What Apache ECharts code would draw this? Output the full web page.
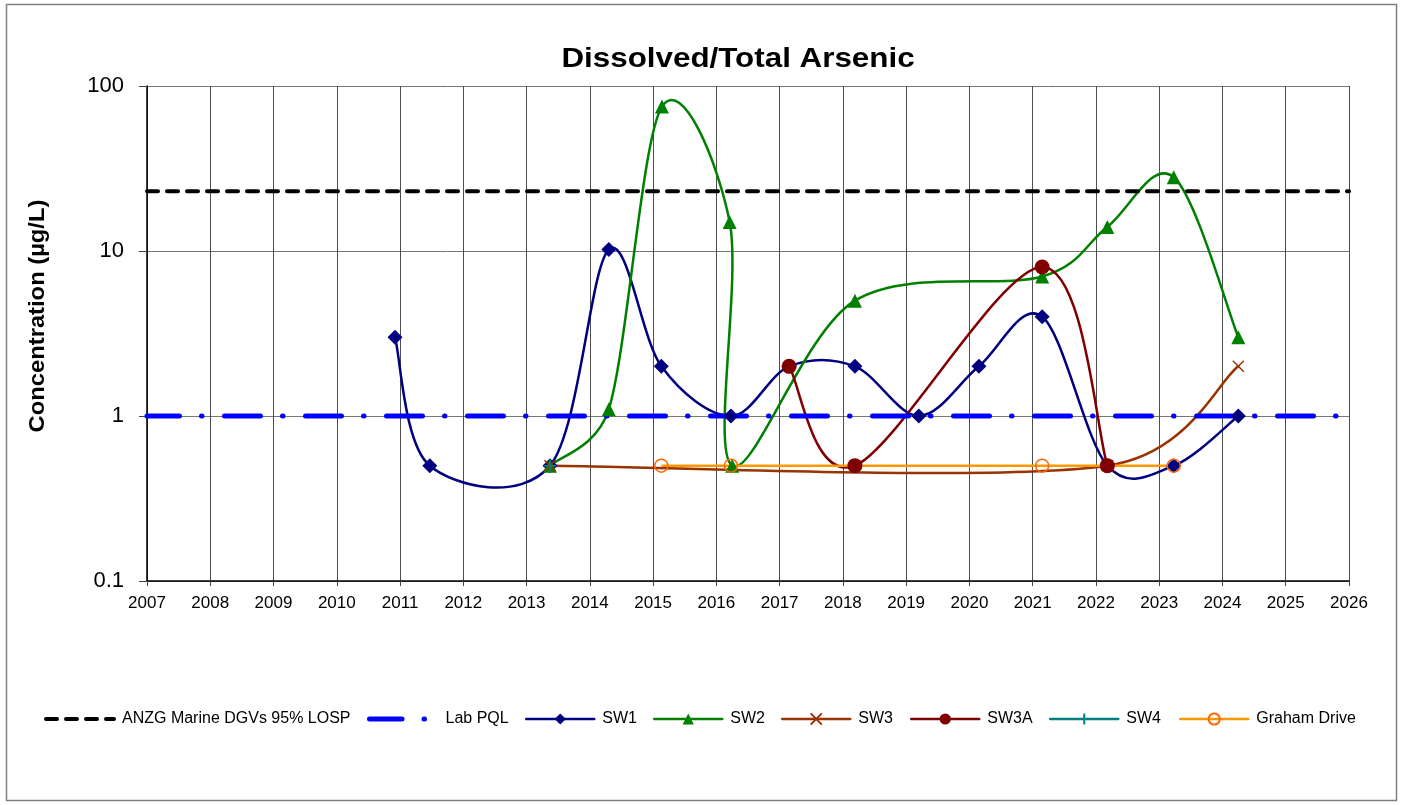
<!DOCTYPE html>
<html>
<head>
<meta charset="utf-8">
<title>Dissolved/Total Arsenic</title>
<script src="https://cdn.jsdelivr.net/npm/echarts@6/dist/echarts.min.js"></script>
<style>
  html, body { margin: 0; padding: 0; background: #fff; }
  #chart { width: 1401px; height: 805px; }
</style>
</head>
<body>
<div id="chart"></div>
<script>
// Sampling dates are decimal years; concentrations in µg/L.
const yearRange = [2007, 2026];

const anzgGuideline = [[2007, 23], [2026, 23]];
const labPql = [[2007, 1], [2026, 1]];

const sw1 = [
  [2010.92, 3], [2011.47, 0.5], [2013.37, 0.5], [2014.30, 10.2], [2015.13, 2],
  [2016.23, 1], [2017.15, 2], [2018.19, 2], [2019.20, 1], [2020.15, 2],
  [2021.15, 4], [2022.18, 0.5], [2023.23, 0.5], [2024.25, 1]
];
const sw2 = [
  [2013.37, 0.5], [2014.30, 1.1], [2015.14, 75], [2016.21, 15], [2016.25, 0.5],
  [2018.19, 5], [2021.15, 7], [2022.18, 14], [2023.23, 28], [2024.25, 3]
];
const sw3 = [[2013.37, 0.5], [2022.18, 0.5], [2024.25, 2]];
const sw3a = [[2017.15, 2], [2018.19, 0.5], [2021.15, 8], [2022.18, 0.5]];
const sw4 = [[2013.37, 0.5]];
const grahamDrive = [[2015.13, 0.5], [2016.23, 0.5], [2021.15, 0.5], [2023.23, 0.5]];

const FONT = '"Liberation Sans", Arial, sans-serif';
const CROSS = 'path://M0,0L10,10M0,10L10,0';
const PLUS = 'path://M5,0L5,10M0,5L10,5';

// Guide lines (no markers)
const guides = [
  { name: 'ANZG Marine DGVs 95% LOSP', data: anzgGuideline, color: '#000000', width: 4, dash: [11, 9], offset: 0 },
  { name: 'Lab PQL', data: labPql, color: '#0000ff', width: 5, dash: [36, 22, 0.5, 22.5], offset: 3.5 }
];

// Monitoring sites: smoothed line plus markers
const sites = [
  { name: 'SW1', data: sw1, color: '#000080', symbol: 'diamond', size: 15 },
  { name: 'SW2', data: sw2, color: '#008000', symbol: 'triangle', size: 14 },
  { name: 'SW3', data: sw3, color: '#993300', symbol: CROSS, size: 11, outline: true },
  { name: 'SW3A', data: sw3a, color: '#800000', symbol: 'circle', size: 15 },
  { name: 'SW4', data: sw4, color: '#008080', symbol: PLUS, size: 12, outline: true },
  { name: 'Graham Drive', data: grahamDrive, color: '#ff9900', symbol: 'circle', size: 13,
    outline: true, markerColor: '#ff6600' }
];

// Bezier control points in screen space, tangent = (next - prev) / 6,
// shortened so that a handle never exceeds half of its own segment.
function curveSegments(px) {
  const out = [];
  const dist = (a, b) => Math.hypot(b[0] - a[0], b[1] - a[1]);
  for (let i = 0; i < px.length - 1; i++) {
    const p0 = px[i > 0 ? i - 1 : i];
    const p1 = px[i];
    const p2 = px[i + 1];
    const p3 = px[i + 2 < px.length ? i + 2 : i + 1];
    const d12 = dist(p1, p2);
    const d02 = dist(p0, p2);
    const d13 = dist(p1, p3);
    const fa = d02 > 0 ? Math.min(1 / 6, 0.5 * d12 / d02) : 0;
    const fb = d13 > 0 ? Math.min(1 / 6, 0.5 * d12 / d13) : 0;
    out.push({
      x1: p1[0], y1: p1[1],
      cpx1: p1[0] + (p2[0] - p0[0]) * fa, cpy1: p1[1] + (p2[1] - p0[1]) * fa,
      cpx2: p2[0] - (p3[0] - p1[0]) * fb, cpy2: p2[1] - (p3[1] - p1[1]) * fb,
      x2: p2[0], y2: p2[1]
    });
  }
  return out;
}

function curveSeries(site) {
  return {
    id: site.name + '-curve',
    type: 'custom',
    data: site.data,
    encode: { x: 0, y: 1 },
    clip: true,
    silent: true,
    z: 2,
    renderItem: function (params, api) {
      if (params.dataIndex !== 0 || site.data.length < 2) return null;
      const px = site.data.map(p => api.coord(p));
      return {
        type: 'group',
        children: curveSegments(px).map(seg => ({
          type: 'bezierCurve',
          shape: seg,
          style: { stroke: site.color, lineWidth: 2.5, fill: null, lineCap: 'round' }
        }))
      };
    }
  };
}

function markerSeries(site) {
  const mColor = site.markerColor || site.color;
  return {
    name: site.name,
    type: 'line',
    data: site.data,
    symbol: site.symbol,
    symbolSize: site.size,
    showAllSymbol: true,
    lineStyle: { color: site.color, width: 2.5, opacity: 0 },
    itemStyle: site.outline
      ? { color: 'rgba(255,255,255,0)', borderColor: mColor, borderWidth: 1.5 }
      : { color: mColor },
    emphasis: { disabled: true },
    z: 2
  };
}

function guideSeries(g) {
  return {
    name: g.name,
    type: 'line',
    data: g.data,
    symbol: 'none',
    lineStyle: { color: g.color, width: g.width, type: g.dash, dashOffset: g.offset, cap: 'round' },
    itemStyle: { color: g.color },
    emphasis: { disabled: true },
    z: 2
  };
}

const series = guides.map(guideSeries);
sites.forEach(s => {
  if (s.name !== 'Graham Drive') series.push(curveSeries(s));
  const m = markerSeries(s);
  if (s.name === 'Graham Drive') m.lineStyle.opacity = 1;
  series.push(m);
});

// One legend box per entry so each sits at its own spot along the bottom row
const legendLeft = [44, 367, 525, 653, 781, 910, 1049, 1179];
const legendItems = guides.map(g => ({
  name: g.name, color: g.color, width: g.width, type: g.dash, offset: g.offset, hideSymbol: true
})).concat(sites.map(s => ({
  name: s.name, color: s.color, width: 2.5, type: 'solid', offset: 0, hideSymbol: false
})));
const legends = legendItems.map((it, i) => ({
  data: [it.name],
  left: legendLeft[i],
  top: 711,
  padding: 0,
  itemWidth: 68,
  itemHeight: 14,
  selectedMode: false,
  lineStyle: { color: it.color, width: it.width, type: it.type, dashOffset: it.offset, cap: 'round', opacity: 1 },
  itemStyle: it.hideSymbol ? { opacity: 0 } : {},
  textStyle: { fontFamily: FONT, fontSize: 16, color: '#000', padding: [0, 0, 0, 3] }
}));

const chart = echarts.init(document.getElementById('chart'), null, { renderer: 'canvas' });

chart.setOption({
  animation: false,
  backgroundColor: '#fff',
  legend: legends,
  grid: { left: 147, right: 52, top: 86, bottom: 224, containLabel: false },
  xAxis: {
    type: 'value',
    min: yearRange[0],
    max: yearRange[1],
    interval: 1,
    axisLine: { show: true, onZero: false, lineStyle: { color: '#000', width: 1.5 } },
    axisTick: { show: true, length: 5, lineStyle: { color: '#444' } },
    axisLabel: {
      fontFamily: FONT, fontSize: 17, color: '#000', margin: 14,
      formatter: v => String(Math.round(v))
    },
    splitLine: { show: true, lineStyle: { color: '#4d4d4d', width: 1 } }
  },
  yAxis: {
    type: 'log',
    logBase: 10,
    min: 0.1,
    max: 100,
    axisLine: { show: true, lineStyle: { color: '#000', width: 1.5 } },
    axisTick: { show: true, length: 8, lineStyle: { color: '#444' } },
    axisLabel: { fontFamily: FONT, fontSize: 22, color: '#000', margin: 23 },
    splitLine: { show: true, lineStyle: { color: '#777', width: 1 } }
  },
  graphic: [
    {
      type: 'rect',
      shape: { x: 6.5, y: 4.5, width: 1390, height: 796 },
      style: { fill: 'none', stroke: '#7f7f7f', lineWidth: 1.5 },
      silent: true
    },
    {
      type: 'text',
      x: 738, y: 59,
      scaleX: 1.12,
      style: {
        text: 'Dissolved/Total Arsenic',
        font: 'bold 28px ' + FONT,
        fill: '#000',
        textAlign: 'center',
        textVerticalAlign: 'middle'
      },
      silent: true
    },
    {
      type: 'text',
      x: 38, y: 316,
      rotation: Math.PI / 2,
      scaleX: 1.08,
      style: {
        text: 'Concentration (µg/L)',
        font: 'bold 22px ' + FONT,
        fill: '#000',
        textAlign: 'center',
        textVerticalAlign: 'middle'
      },
      silent: true
    }
  ],
  series: series
});
</script>
</body>
</html>
